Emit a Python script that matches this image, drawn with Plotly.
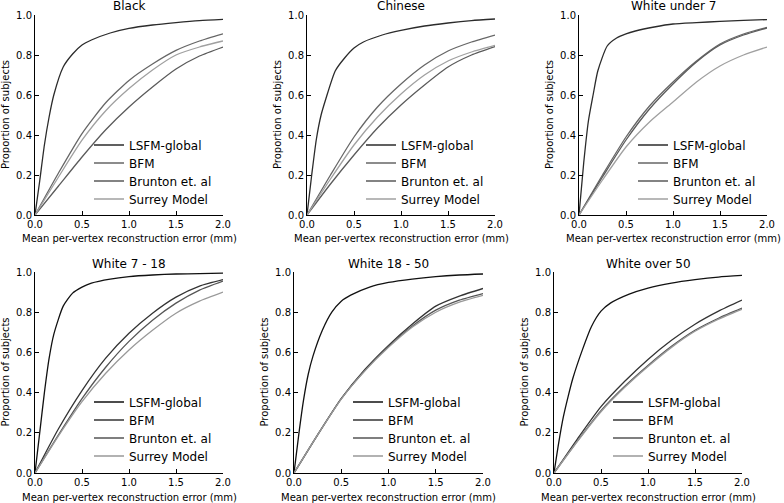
import plotly.graph_objects as go

# ---------------- data ----------------
panel_titles = ["Black", "Chinese", "White under 7", "White 7 - 18", "White 18 - 50", "White over 50"]
model_names = ["LSFM-global", "BFM", "Brunton et. al", "Surrey Model"]

x_lsfm = [0, 0.05, 0.1, 0.15, 0.2, 0.3, 0.4, 0.5, 0.6, 0.8, 1.0, 1.25, 1.5, 1.75, 2.0]
x_other = [0, 0.25, 0.5, 0.75, 1.0, 1.25, 1.5, 1.75, 2.0]

# LSFM-global curves (x_lsfm)
lsfm_black = [0, 0.17, 0.35, 0.49, 0.60, 0.74, 0.805, 0.85, 0.875, 0.91, 0.933, 0.95, 0.962, 0.972, 0.978]
lsfm_chinese = [0, 0.20, 0.38, 0.50, 0.58, 0.72, 0.785, 0.835, 0.865, 0.90, 0.923, 0.945, 0.96, 0.972, 0.98]
lsfm_white_u7 = [0, 0.26, 0.47, 0.60, 0.72, 0.845, 0.885, 0.906, 0.92, 0.94, 0.955, 0.962, 0.968, 0.973, 0.977]
lsfm_white_7_18 = [0, 0.20, 0.40, 0.57, 0.69, 0.83, 0.895, 0.925, 0.945, 0.965, 0.977, 0.985, 0.99, 0.992, 0.994]
lsfm_white_18_50 = [0, 0.19, 0.36, 0.49, 0.58, 0.71, 0.80, 0.855, 0.885, 0.925, 0.948, 0.965, 0.977, 0.985, 0.99]
lsfm_white_o50 = [0, 0.15, 0.28, 0.38, 0.47, 0.61, 0.73, 0.805, 0.845, 0.89, 0.92, 0.945, 0.962, 0.975, 0.983]

# BFM curves (x_other)
bfm_black = [0, 0.21, 0.407, 0.56, 0.673, 0.755, 0.823, 0.87, 0.906]
bfm_chinese = [0, 0.20, 0.39, 0.54, 0.655, 0.75, 0.82, 0.865, 0.90]
bfm_white_u7 = [0, 0.20, 0.39, 0.545, 0.665, 0.77, 0.855, 0.905, 0.938]
bfm_white_7_18 = [0, 0.22, 0.41, 0.57, 0.695, 0.795, 0.875, 0.93, 0.962]
bfm_white_18_50 = [0, 0.19, 0.37, 0.515, 0.635, 0.74, 0.83, 0.88, 0.918]
bfm_white_o50 = [0, 0.17, 0.33, 0.455, 0.565, 0.66, 0.74, 0.805, 0.86]

# Brunton et. al curves (x_other)
brunton_black = [0, 0.145, 0.29, 0.425, 0.54, 0.64, 0.73, 0.795, 0.84]
brunton_chinese = [0, 0.155, 0.30, 0.435, 0.55, 0.65, 0.74, 0.80, 0.842]
brunton_white_u7 = [0, 0.19, 0.375, 0.53, 0.655, 0.765, 0.85, 0.90, 0.935]
brunton_white_7_18 = [0, 0.19, 0.37, 0.525, 0.655, 0.76, 0.845, 0.91, 0.955]
brunton_white_18_50 = [0, 0.19, 0.37, 0.51, 0.63, 0.73, 0.81, 0.86, 0.893]
brunton_white_o50 = [0, 0.16, 0.31, 0.43, 0.535, 0.63, 0.71, 0.77, 0.82]

# Surrey Model curves (x_other)
surrey_black = [0, 0.19, 0.374, 0.52, 0.632, 0.725, 0.80, 0.84, 0.87]
surrey_chinese = [0, 0.18, 0.35, 0.49, 0.605, 0.70, 0.77, 0.815, 0.848]
surrey_white_u7 = [0, 0.175, 0.34, 0.465, 0.565, 0.665, 0.745, 0.80, 0.84]
surrey_white_7_18 = [0, 0.185, 0.355, 0.495, 0.612, 0.71, 0.795, 0.855, 0.90]
surrey_white_18_50 = [0, 0.19, 0.368, 0.508, 0.625, 0.725, 0.80, 0.85, 0.884]
surrey_white_o50 = [0, 0.158, 0.305, 0.425, 0.53, 0.625, 0.705, 0.765, 0.815]

x_ticks = [0.0, 0.5, 1.0, 1.5, 2.0]
y_ticks = [0.0, 0.2, 0.4, 0.6, 0.8, 1.0]
x_label = "Mean per-vertex reconstruction error (mm)"
y_label = "Proportion of subjects"

panels = [
    (lsfm_black, bfm_black, brunton_black, surrey_black),
    (lsfm_chinese, bfm_chinese, brunton_chinese, surrey_chinese),
    (lsfm_white_u7, bfm_white_u7, brunton_white_u7, surrey_white_u7),
    (lsfm_white_7_18, bfm_white_7_18, brunton_white_7_18, surrey_white_7_18),
    (lsfm_white_18_50, bfm_white_18_50, brunton_white_18_50, surrey_white_18_50),
    (lsfm_white_o50, bfm_white_o50, brunton_white_o50, surrey_white_o50),
]

# ---------------- style / layout ----------------
W, H = 784, 503
FONT = "DejaVu Sans"
colors_row = [
    ["#2b2b2b", "#666666", "#5a5a5a", "#a0a0a0"],
    ["#111111", "#333333", "#555555", "#999999"],
]
# plot-area boxes in pixels: (left, right, top, bottom)
boxes = [
    (35, 223, 15, 215), (307, 495, 15, 215), (579, 767, 15, 215),
    (35, 223, 272, 473), (294, 483, 272, 473), (554, 742, 272, 473),
]
LEG_FIRST = 130   # px below plot top of first legend entry
LEG_STEP = 18     # px between legend entries

def px(xp):
    return xp / W

def py(yp):
    return 1 - yp / H

fig = go.Figure()
annotations = []
layout_extra = {}
leg_idx = 0

for i, (box, title, curves) in enumerate(zip(boxes, panel_titles, panels)):
    k = i + 1
    xa = "x" if k == 1 else f"x{k}"
    ya = "y" if k == 1 else f"y{k}"
    row = 0 if i < 3 else 1
    l, r, t, b = box
    for j, (name, yv) in enumerate(zip(model_names, curves)):
        leg_idx += 1
        lg = "legend" if leg_idx == 1 else f"legend{leg_idx}"
        xv = x_lsfm if j == 0 else x_other
        fig.add_trace(go.Scatter(
            x=xv, y=yv, name=name, mode="lines",
            line=dict(color=colors_row[row][j], width=1.3, shape="spline", smoothing=0.6),
            xaxis=xa, yaxis=ya, legend=lg, showlegend=True, hoverinfo="skip",
        ))
        layout_extra[lg] = dict(
            x=px(l + 54), y=py(t + LEG_FIRST + j * LEG_STEP), xanchor="left", yanchor="middle",
            bgcolor="rgba(0,0,0,0)", borderwidth=0,
            font=dict(family=FONT, size=12, color="black"),
        )
    axis_common = dict(
        showgrid=False, zeroline=False, showline=True, linecolor="black", linewidth=1,
        ticks="inside", ticklen=4, tickwidth=1, tickcolor="black", mirror=False,
        tickfont=dict(family=FONT, size=10, color="black"), tickformat=".1f",
        fixedrange=True, automargin=False,
    )
    layout_extra["xaxis" if k == 1 else f"xaxis{k}"] = dict(
        axis_common, domain=[px(l), px(r)], range=[0, 2], tickvals=x_ticks,
        anchor=ya,
    )
    layout_extra["yaxis" if k == 1 else f"yaxis{k}"] = dict(
        axis_common, domain=[py(b), py(t)], range=[0, 1], tickvals=y_ticks,
        anchor=xa,
    )
    cx = (l + r) / 2
    annotations.append(dict(text=title, x=px(cx), y=py(t - 8.5), xref="paper", yref="paper",
                            xanchor="center", yanchor="middle", showarrow=False,
                            font=dict(family=FONT, size=12, color="black")))
    annotations.append(dict(text=x_label, x=px(cx), y=py(b + 24), xref="paper", yref="paper",
                            xanchor="center", yanchor="middle", showarrow=False,
                            font=dict(family=FONT, size=10, color="black")))
    annotations.append(dict(text=y_label, x=px(l - 30), y=py((t + b) / 2), xref="paper", yref="paper",
                            xanchor="center", yanchor="middle", showarrow=False, textangle=-90,
                            font=dict(family=FONT, size=10, color="black")))

fig.update_layout(
    width=W, height=H, margin=dict(l=0, r=0, t=0, b=0, autoexpand=False),
    paper_bgcolor="white", plot_bgcolor="white",
    font=dict(family=FONT, size=10, color="black"),
    annotations=annotations, **layout_extra,
)

fig.write_html("out.html", config={"displayModeBar": False},
               post_script="document.body.style.margin='0px';")
